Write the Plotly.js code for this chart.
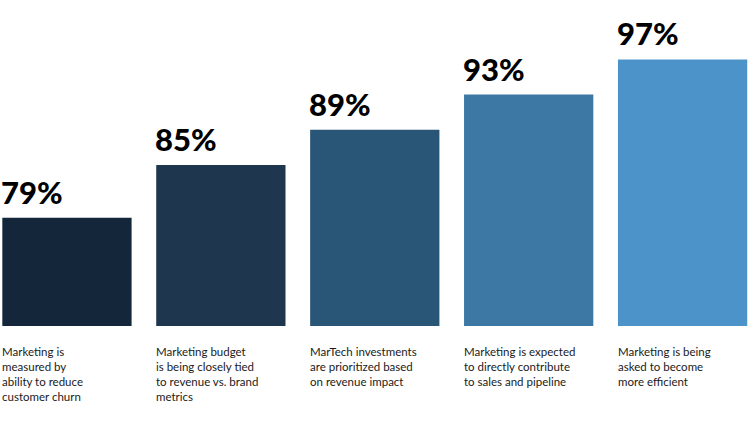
<!DOCTYPE html>
<html>
<head>
<meta charset="utf-8">
<script src="https://cdn.plot.ly/plotly-3.0.1.min.js"></script>
<style>
  html, body { margin: 0; padding: 0; background: #fff; }
  #chart { width: 750px; height: 422px; }
</style>
</head>
<body>
<div id="chart"></div>
<script>
var categories = [
  'Marketing is<br>measured by<br>ability to reduce<br>customer churn',
  'Marketing budget<br>is being closely tied<br>to revenue vs. brand<br>metrics',
  'MarTech investments<br>are prioritized based<br>on revenue impact',
  'Marketing is expected<br>to directly contribute<br>to sales and pipeline',
  'Marketing is being<br>asked to become<br>more efficient'
]
var values = [79, 85, 89, 93, 97]
var bar_colors = ['#14263a', '#1f374e', '#295577', '#3d78a4', '#4b93c9']

var bar_width = 0.84
var idx = values.map((v, i) => i)

var trace = {
  type : 'bar',
  x : idx,
  y : values,
  width : bar_width,
  marker : {color : bar_colors, line : {width : 0}},
  hoverinfo : 'skip'
}

var annotations = []
for (let [i, v] of values.entries()) {
  // percentage above each bar, left aligned with the bar edge
  annotations.push({
    x : i - bar_width / 2, y : v, xref : 'x', yref : 'y',
    xanchor : 'left', yanchor : 'bottom', yshift : 5, xshift : -3,
    text : v + '%', showarrow : false,
    font : {family : 'Lato', size : 31, color : '#000', weight : 900}
  })
  // category text under the bar
  annotations.push({
    x : i - bar_width / 2, y : 0, xref : 'x', yref : 'paper',
    xanchor : 'left', yanchor : 'top', yshift : -17, xshift : -2,
    align : 'left', text : categories[i], showarrow : false,
    font : {family : 'Lato', size : 11.5, color : '#1a1a1a'}
  })
}

var layout = {
  width : 750, height : 422,
  margin : {l : 0, r : 0, t : 0, b : 96},
  paper_bgcolor : '#fff', plot_bgcolor : '#fff',
  showlegend : false,
  xaxis : {range : [-0.435, 4.438], visible : false, fixedrange : true},
  yaxis : {range : [66.7, 103.75], visible : false, fixedrange : true},
  annotations : annotations
}

Plotly.newPlot('chart', [trace], layout, {staticPlot : true})
</script>
</body>
</html>
